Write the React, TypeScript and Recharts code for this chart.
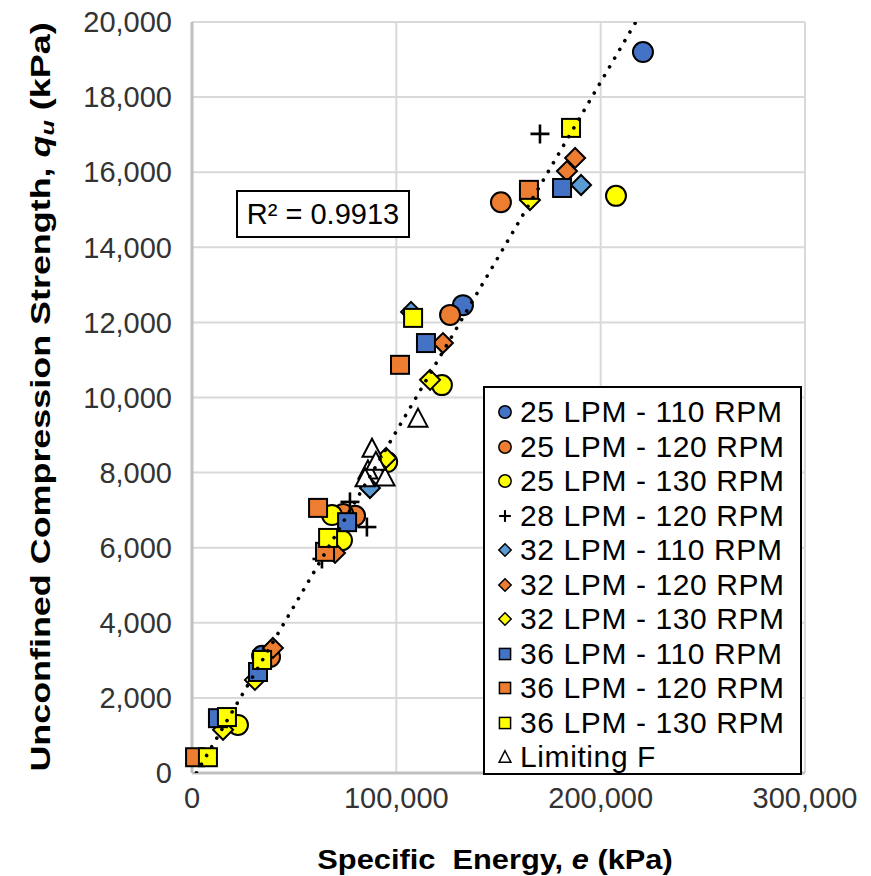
import React from 'react';
import { ScatterChart, Scatter, XAxis, YAxis, CartesianGrid, Label } from 'recharts';

const FONT = '"Liberation Sans", Arial, sans-serif';

// [specific energy e (kPa), unconfined compression strength qu (kPa)]
const s25_110: [number, number][] = [[220700, 19200], [132600, 12460], [34300, 3120]];
const s25_120: [number, number][] = [[151200, 15200], [126300, 12200], [79800, 6850], [74000, 6900], [38200, 3090]];
const s25_130: [number, number][] = [[207500, 15370], [122300, 10330], [95500, 8280], [68500, 6870], [73400, 6200], [22500, 1280]];
const s28_120: [number, number][] = [[170300, 17020], [77300, 7220], [85600, 6550], [63600, 5700]];
const s32_110: [number, number][] = [[190400, 15660], [107200, 12280], [87100, 7590]];
const s32_120: [number, number][] = [[187500, 16380], [183500, 16030], [122800, 11450], [70000, 5860], [39600, 3330]];
const s32_130: [number, number][] = [[165400, 15260], [116500, 10470], [95000, 8390], [30800, 2480], [15200, 1150]];
const s36_110: [number, number][] = [[181100, 15580], [114500, 11450], [75900, 6680], [32300, 2690], [12700, 1460]];
const s36_120: [number, number][] = [[164900, 15530], [101800, 10870], [61700, 7060], [65100, 5890], [1500, 420]];
const s36_130: [number, number][] = [[185500, 17180], [108200, 12120], [66600, 6260], [34300, 3010], [17100, 1490], [7800, 420]];
const limitingF: [number, number][] = [[110600, 9450], [88100, 8650], [86100, 8070], [84700, 7860], [94500, 7880], [90000, 8300]];
const trendEnds: [number, number][] = [[2150, 0], [217200, 20000]];

const X_TICKS = [0, 100000, 200000, 300000];
const Y_TICKS = [0, 2000, 4000, 6000, 8000, 10000, 12000, 14000, 16000, 18000, 20000];
const R2_TEXT = 'R² = 0.9913';

const BLUE = '#4472C4';
const LBLUE = '#5B9BD5';
const ORANGE = '#ED7D31';
const YELLOW = '#FFFF00';

type Kind = 'circle' | 'diamond' | 'square' | 'cross' | 'triangle';

interface SeriesDef {
  name: string;
  pts: [number, number][];
  kind: Kind;
  fill: string;
}

const SERIES: SeriesDef[] = [
  { name: '25 LPM - 110 RPM', pts: s25_110, kind: 'circle', fill: BLUE },
  { name: '25 LPM - 120 RPM', pts: s25_120, kind: 'circle', fill: ORANGE },
  { name: '25 LPM - 130 RPM', pts: s25_130, kind: 'circle', fill: YELLOW },
  { name: '28 LPM - 120 RPM', pts: s28_120, kind: 'cross', fill: '#000' },
  { name: '32 LPM - 110 RPM', pts: s32_110, kind: 'diamond', fill: LBLUE },
  { name: '32 LPM - 120 RPM', pts: s32_120, kind: 'diamond', fill: ORANGE },
  { name: '32 LPM - 130 RPM', pts: s32_130, kind: 'diamond', fill: YELLOW },
  { name: '36 LPM - 110 RPM', pts: s36_110, kind: 'square', fill: BLUE },
  { name: '36 LPM - 120 RPM', pts: s36_120, kind: 'square', fill: ORANGE },
  { name: '36 LPM - 130 RPM', pts: s36_130, kind: 'square', fill: YELLOW },
  { name: 'Limiting F', pts: limitingF, kind: 'triangle', fill: '#fff' },
];

function Marker({ kind, fill, cx, cy, s }: { kind: Kind; fill: string; cx: number; cy: number; s: number }) {
  const sw = 2 * Math.max(0.75, s);
  switch (kind) {
    case 'circle':
      return <circle cx={cx} cy={cy} r={10 * s} fill={fill} stroke="#000" strokeWidth={sw} />;
    case 'square':
      return <rect x={cx - 9 * s} y={cy - 9 * s} width={18 * s} height={18 * s} fill={fill} stroke="#000" strokeWidth={sw} />;
    case 'diamond': {
      const h = 10 * s;
      return <polygon points={`${cx},${cy - h} ${cx + h},${cy} ${cx},${cy + h} ${cx - h},${cy}`} fill={fill} stroke="#000" strokeWidth={sw} />;
    }
    case 'cross': {
      const h = 9.5 * s;
      return (
        <g stroke="#000" strokeWidth={2.6 * Math.max(0.8, s)}>
          <line x1={cx - h} y1={cy} x2={cx + h} y2={cy} />
          <line x1={cx} y1={cy - h} x2={cx} y2={cy + h} />
        </g>
      );
    }
    case 'triangle': {
      const w = 9.5 * s;
      const hh = 8.5 * s;
      return <polygon points={`${cx},${cy - hh - 1} ${cx + w},${cy + hh} ${cx - w},${cy + hh}`} fill={fill} stroke="#000" strokeWidth={sw} strokeLinejoin="miter" />;
    }
  }
  return null;
}

const toData = (pts: [number, number][]) => pts.map(([e, q]) => ({ e, q }));
const fmt = (v: number) => v.toLocaleString('en-US');

const YTitle = (props: any) => (
  <g transform="translate(41 397) rotate(-90) scale(1.33 1)">
    <text x={0} y={0} textAnchor="middle" dominantBaseline="central"
      fontFamily={FONT} fontWeight="bold" fontSize={27} fill="#000">
      Unconfined Compression Strength, <tspan fontStyle="italic">q</tspan>
      <tspan fontStyle="italic" fontSize={19} dy={6}>u</tspan>
      <tspan dy={-6}> (kPa)</tspan>
    </text>
  </g>
);

const XTitle = (props: any) => (
  <g transform="translate(495 859) scale(1.1 1)">
    <text x={0} y={0} textAnchor="middle" dominantBaseline="central"
      fontFamily={FONT} fontWeight="bold" fontSize={28} fill="#000" style={{ whiteSpace: 'pre' }}>
      {'Specific  Energy, '}<tspan fontStyle="italic">e</tspan>{' (kPa)'}
    </text>
  </g>
);

export default function App() {
  return (
    <div style={{ position: 'absolute', left: 0, top: 0, width: 871, height: 876, background: '#fff' }}>
      <ScatterChart width={871} height={876} margin={{ top: 22, right: 66, left: 0, bottom: 0 }}>
        <CartesianGrid stroke="#d9d9d9" strokeWidth={2} />
        <XAxis type="number" dataKey="e" domain={[0, 300000]} ticks={X_TICKS} tickFormatter={fmt}
          height={103} axisLine={{ stroke: '#bfbfbf', strokeWidth: 3 }} tickLine={false} tickSize={0} tickMargin={14}
          tick={{ fontFamily: FONT, fontSize: 29, fill: '#333' }} interval={0}>
          <Label content={XTitle} />
        </XAxis>
        <YAxis type="number" dataKey="q" domain={[0, 20000]} ticks={Y_TICKS} tickFormatter={fmt}
          width={192} axisLine={{ stroke: '#bfbfbf', strokeWidth: 3 }} tickLine={false} tickSize={0} tickMargin={20}
          tick={{ fontFamily: FONT, fontSize: 29, fill: '#333' }} interval={0} allowDataOverflow>
          <Label content={YTitle} />
        </YAxis>
        {SERIES.map((s) => (
          <Scatter key={s.name} name={s.name} data={toData(s.pts)} isAnimationActive={false}
            shape={(p: any) => <Marker kind={s.kind} fill={s.fill} cx={p.cx} cy={p.cy} s={1} />} />
        ))}
        <Scatter name="trend" data={toData(trendEnds)} isAnimationActive={false}
          line={{ stroke: '#000', strokeWidth: 3.6, strokeDasharray: '0.1 10', strokeLinecap: 'round' }}
          shape={() => <g />} />
      </ScatterChart>
      <div style={{ position: 'absolute', left: 236, top: 190, width: 170, height: 44, border: '2px solid #000',
        background: '#fff', fontFamily: FONT, fontSize: 29, color: '#000', display: 'flex', alignItems: 'center', justifyContent: 'center' }}>
        {R2_TEXT}
      </div>
      <div style={{ position: 'absolute', left: 483, top: 386, width: 315, height: 385, border: '2px solid #000',
        background: '#fff', fontFamily: FONT, fontSize: 30, color: '#000', boxSizing: 'content-box' }}>
        <div style={{ paddingTop: 7 }}>
          {SERIES.map((s) => (
            <div key={s.name} style={{ display: 'flex', alignItems: 'center', height: 34.5 }}>
              <svg width={35} height={30} style={{ flex: 'none' }}>
                <Marker kind={s.kind} fill={s.fill} cx={20} cy={15} s={0.62} />
              </svg>
              <span style={{ whiteSpace: 'pre', lineHeight: '30px', letterSpacing: '0.6px' }}>{s.name}</span>
            </div>
          ))}
        </div>
      </div>
    </div>
  );
}
